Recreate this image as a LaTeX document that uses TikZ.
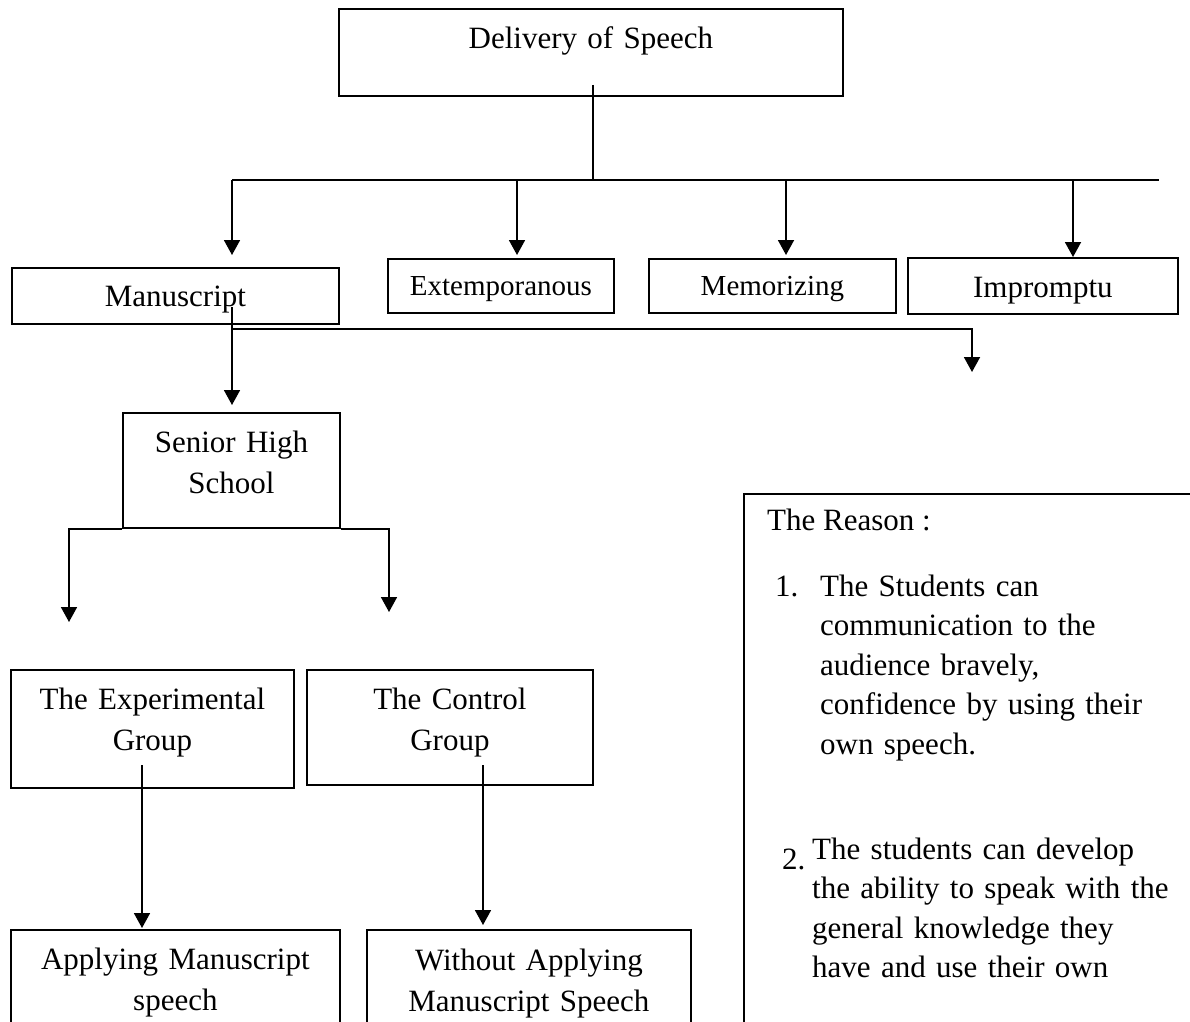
\documentclass[tikz,border=0pt]{standalone}
\usepackage{fontspec}
\setmainfont{Liberation Serif}
\usetikzlibrary{arrows.meta,calc}
\begin{document}
\begin{tikzpicture}[x=1pt,y=-1pt,
  every node/.style={font=\fontsize{31}{41}\selectfont},
  box/.style={draw,line width=1.8pt,inner sep=0pt,align=center,anchor=north west},
  smallbox/.style={box,font=\fontsize{29}{38}\selectfont},
  conn/.style={line width=1.8pt},
  arr/.style={line width=1.8pt,-{Triangle[length=15pt,width=16pt]}},
  txt/.style={inner sep=0pt,anchor=base west},
  para/.style={txt,text width=380pt,align=left,font=\fontsize{31}{39.5}\selectfont}
]
\useasboundingbox (0,0) rectangle (1190,1021);

% boxes
\node[box,text width=504pt,text height=40pt,text depth=47pt] (deliv) at (338,8) {Delivery of Speech};
\node[box,text width=327pt,text height=39pt,text depth=17pt] (manu) at (11,267) {Manuscript};
\node[smallbox,text width=226pt,text height=37pt,text depth=17pt] (ext) at (387,258) {Extemporanous};
\node[smallbox,text width=247pt,text height=37pt,text depth=17pt] (mem) at (648,258) {Memorizing};
\node[box,text width=270pt,text height=40pt,text depth=16pt] (imp) at (907,257) {Impromptu};
\node[box,text width=217pt,text height=40pt,text depth=75pt] (shs) at (122,412) {Senior High\\School};
\node[box,text width=283pt,text height=40pt,text depth=78pt] (exp) at (10,669) {The Experimental\\Group};
\node[box,text width=286pt,text height=40pt,text depth=75pt] (ctl) at (306,669) {The Control\\Group};
\node[box,text width=329pt,text height=40pt,text depth=70pt] (app) at (10,929) {Applying Manuscript\\speech};
\node[box,text width=324pt,text height=41pt,text depth=70pt] (wo) at (366,929) {Without Applying\\Manuscript Speech};
\node[draw,line width=1.8pt,inner sep=0pt,minimum width=470pt,minimum height=560pt,anchor=north west] (reason) at (743,493) {};

% reason text
\node[txt] (rtitle) at (767,530) {The Reason :};
\node[txt] (n1) at (775,596) {1.};
\node[para] (r1) at (820,596) {The Students can\\communication to the\\audience bravely,\\confidence by using their\\own speech.};
\node[txt] (n2) at (782,869) {2.};
\node[para] (r2) at (812,859) {The students can develop\\the ability to speak with the\\general knowledge they\\have and use their own};

% connectors from Delivery of Speech
\coordinate (stemtop) at ($(deliv.south)+(2,-12)$);
\coordinate (busL) at (232,180);
\coordinate (busR) at (1159,180);
\coordinate (bExt) at (517,180);
\coordinate (bMem) at (786,180);
\coordinate (bImp) at (1073,180);
\draw[conn] (stemtop) -- (stemtop |- busL);
\draw[conn] (busL) -- (busR);
\draw[arr] (busL) -- ([yshift=12pt]busL |- manu.north);
\draw[arr] (bExt) -- ([yshift=3pt]bExt |- ext.north);
\draw[arr] (bMem) -- ([yshift=3pt]bMem |- mem.north);
\draw[arr] (bImp) -- (bImp |- imp.north);

% from Manuscript
\coordinate (m0) at (232,307);
\coordinate (m1) at (232,329);
\coordinate (m2) at (972,372);
\draw[arr] (m0) -- ([yshift=7pt]m0 |- shs.north);
\draw[arr] (m1) -| (m2);

% from Senior High School
\coordinate (expTip) at (69,622);
\coordinate (ctlTip) at (389,612);
\draw[arr] (shs.south west) -| (expTip);
\draw[arr] (shs.south east) -| (ctlTip);

% from groups
\coordinate (e0) at (142,765);
\coordinate (c0) at (483,765);
\draw[arr] (e0) -- ([yshift=1pt]e0 |- app.north);
\draw[arr] (c0) -- ([yshift=4pt]c0 |- wo.north);
\end{tikzpicture}
\end{document}
